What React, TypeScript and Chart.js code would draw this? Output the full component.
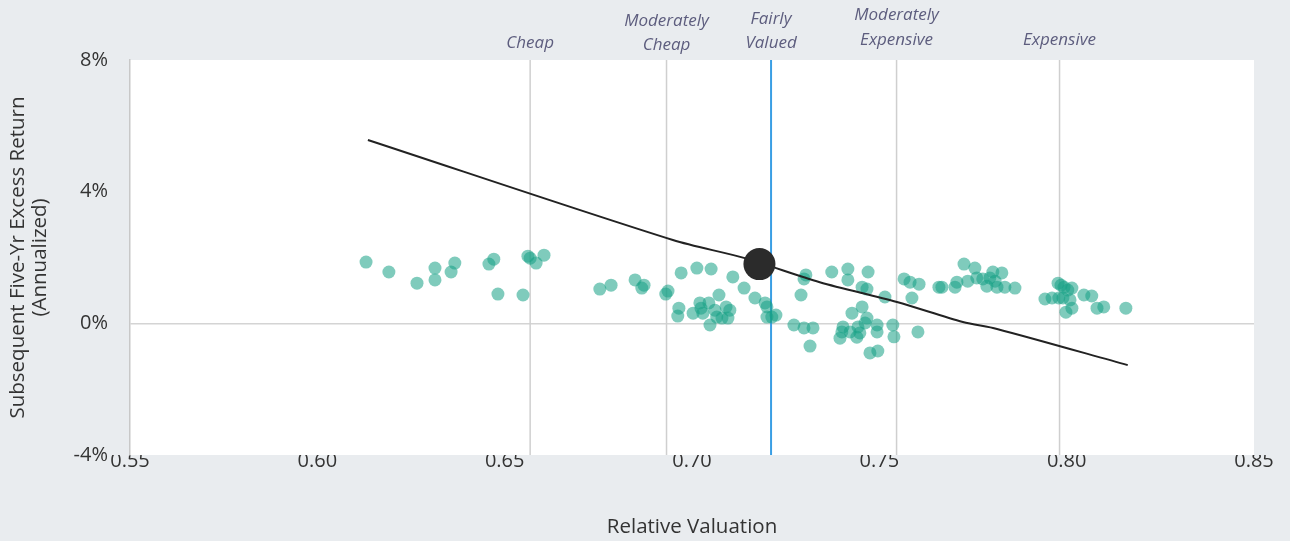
import React, { useEffect, useRef } from "react";
import { Chart, registerables } from "chart.js";

Chart.register(...registerables);

// ---- Data ----
const valuation = [
  0.6130, 0.6191, 0.6266, 0.6314, 0.6314, 0.6357, 0.6367, 0.6458, 0.6471, 0.6482,
  0.6549, 0.6562, 0.6568, 0.6584, 0.6605, 0.6754, 0.6784, 0.6848, 0.6866, 0.6872,
  0.6930, 0.6936, 0.6971, 0.7013, 0.7051, 0.7109, 0.7139, 0.7168, 0.7195, 0.7200,
  0.7200, 0.7213, 0.7224, 0.6965, 0.6962, 0.7003, 0.7021, 0.7024, 0.7029, 0.7045,
  0.7072, 0.7061, 0.7066, 0.7048, 0.7080, 0.7091, 0.7101, 0.7096, 0.7299, 0.7304,
  0.7291, 0.7373, 0.7416, 0.7416, 0.7470, 0.7454, 0.7467, 0.7515, 0.7566, 0.7582,
  0.7606, 0.7587, 0.7659, 0.7427, 0.7454, 0.7272, 0.7299, 0.7323, 0.7315, 0.7403,
  0.7400, 0.7395, 0.7422, 0.7443, 0.7448, 0.7440, 0.7467, 0.7462, 0.7494, 0.7494,
  0.7536, 0.7539, 0.7475, 0.7496, 0.7603, 0.7667, 0.7702, 0.7707, 0.7726, 0.7755,
  0.7736, 0.7760, 0.7776, 0.7795, 0.7803, 0.7827, 0.7809, 0.7814, 0.7835, 0.7862,
  0.7787, 0.7942, 0.7961, 0.7979, 0.7977, 0.7993, 0.8014, 0.8003, 0.8009, 0.8014,
  0.7998, 0.8046, 0.8067, 0.8081, 0.8099, 0.8158, 0.7990, 0.7985,
];
const excessReturn = [
  1.86, 1.56, 1.22, 1.68, 1.32, 1.56, 1.83, 1.80, 1.95, 0.89,
  0.86, 2.04, 1.98, 1.83, 2.07, 1.04, 1.16, 1.32, 1.07, 1.16,
  0.89, 0.98, 1.53, 1.68, 1.65, 1.41, 1.07, 0.77, 0.62, 0.50,
  0.19, 0.19, 0.25, 0.46, 0.22, 0.31, 0.62, 0.46, 0.31, 0.62,
  0.86, 0.40, 0.19, -0.05, 0.16, 0.50, 0.40, 0.16, 1.35, 1.47,
  0.86, 1.56, 1.65, 1.32, 1.56, 1.10, 1.04, 0.80, 1.35, 1.25,
  1.19, 0.77, 1.10, 0.31, 0.50, -0.05, -0.14, -0.14, -0.69, -0.11,
  -0.26, -0.45, -0.26, -0.11, -0.29, -0.42, 0.16, 0.01, -0.05, -0.26,
  -0.05, -0.41, -0.90, -0.84, -0.26, 1.10, 1.10, 1.25, 1.80, 1.68,
  1.28, 1.38, 1.35, 1.38, 1.56, 1.53, 1.28, 1.10, 1.10, 1.07,
  1.13, 0.74, 0.77, 0.77, 1.22, 1.10, 1.07, 1.01, 0.71, 0.46,
  0.34, 0.86, 0.83, 0.46, 0.50, 0.46, 0.77, 1.16,
];

const fitValuation = [0.6135, 0.6949, 0.7141, 0.7341, 0.7547, 0.7723, 0.7814, 0.8163];
const fitReturn = [5.57, 2.53, 1.98, 1.25, 0.65, 0.04, -0.17, -1.27];

const currentValuation = [0.718];
const currentReturn = [1.80];

const zoneBounds = [0.6568, 0.6932, 0.7211, 0.7546, 0.7981];
const zoneNames = [["Cheap"], ["Moderately", "Cheap"], ["Fairly", "Valued"], ["Moderately", "Expensive"], ["Expensive"]];

const xTicks = [0.55, 0.6, 0.65, 0.7, 0.75, 0.8, 0.85];
const yTicks = [-4, 0, 4, 8];
const yRange = [-4, 8];

// ---- Styles ----
const zoneLabelBottomGap = [17, 15, 17, 20, 20]; // px above plot top for last line
const zoneLineGap = [24, 24, 24, 25, 25];
const FONT = '"Open Sans", "Noto Sans", sans-serif';

const zoneLabelPlugin = {
  id: "zoneLabels",
  afterDraw(chart: any) {
    const { ctx, chartArea, scales } = chart;
    const x = scales.x;
    ctx.save();
    ctx.font = `italic 17px ${FONT}`;
    ctx.fillStyle = "#5d5d7e";
    ctx.textAlign = "center";
    ctx.textBaseline = "middle";
    zoneNames.forEach((lines, i) => {
      const px = x.getPixelForValue(zoneBounds[i]);
      const lastY = chartArea.top - zoneLabelBottomGap[i];
      lines.forEach((t, j) => {
        const y = lastY - (lines.length - 1 - j) * zoneLineGap[i];
        ctx.fillText(t, px, y);
      });
    });
    ctx.restore();
  },
};

const whitePlotPlugin = {
  id: "whitePlot",
  beforeDraw(chart: any) {
    const { ctx, chartArea } = chart;
    ctx.save();
    ctx.fillStyle = "#ffffff";
    ctx.fillRect(chartArea.left, chartArea.top, chartArea.right - chartArea.left, chartArea.bottom - chartArea.top);
    ctx.restore();
  },
};

export default function App() {
  const ref = useRef<HTMLCanvasElement | null>(null);

  useEffect(() => {
    document.body.style.margin = "0";
    if (!ref.current) return;

    const zoneDatasets = zoneBounds.map((v, i) => ({
      type: "line" as const,
      data: [
        { x: v, y: yRange[0] },
        { x: v, y: yRange[1] },
      ],
      borderColor: i === 2 ? "#3a9ee4" : "#cfcfcf",
      borderWidth: i === 2 ? 2 : 1.5,
      pointRadius: 0,
      showLine: true,
      order: 5,
    }));

    const chart = new Chart(ref.current, {
      type: "scatter",
      data: {
        datasets: [
          {
            type: "scatter" as const,
            data: currentValuation.map((v, i) => ({ x: v, y: currentReturn[i] })),
            backgroundColor: "#2b2b2b",
            borderWidth: 0,
            pointRadius: 16,
            order: 0,
          },
          {
            type: "line" as const,
            data: fitValuation.map((v, i) => ({ x: v, y: fitReturn[i] })),
            borderColor: "#222222",
            borderWidth: 2,
            pointRadius: 0,
            showLine: true,
            tension: 0.3,
            order: 1,
          },
          {
            type: "scatter" as const,
            data: valuation.map((v, i) => ({ x: v, y: excessReturn[i] })),
            backgroundColor: "rgba(22,160,133,0.55)",
            borderWidth: 0,
            pointRadius: 6.5,
            order: 2,
          },
          ...zoneDatasets,
        ] as any,
      },
      options: {
        animation: false,
        responsive: true,
        maintainAspectRatio: false,
        layout: { padding: { left: 0, top: 60, right: 36, bottom: 0 } },
        plugins: { legend: { display: false }, tooltip: { enabled: false } },
        scales: {
          x: {
            type: "linear",
            min: 0.55,
            max: 0.85,
            afterBuildTicks: (s: any) => {
              s.ticks = xTicks.map((v) => ({ value: v }));
            },
            afterFit: (s: any) => {
              s.height = 86;
            },
            ticks: {
              color: "#333333",
              font: { family: FONT, size: 20, lineHeight: 1.2 },
              padding: -5.5,
              callback: (v: any) => Number(v).toFixed(2),
            },
            grid: { display: false, drawTicks: false },
            border: { display: false },
            title: {
              display: true,
              text: "Relative Valuation",
              color: "#333333",
              font: { family: FONT, size: 20.5, lineHeight: 1.2 },
              padding: { top: 0, bottom: 1.5 },
            },
          },
          y: {
            type: "linear",
            min: yRange[0],
            max: yRange[1],
            afterBuildTicks: (s: any) => {
              s.ticks = yTicks.map((v) => ({ value: v }));
            },
            afterFit: (s: any) => {
              s.width = 130;
            },
            ticks: {
              color: "#333333",
              font: { family: FONT, size: 20, lineHeight: 1.2 },
              padding: 22,
              callback: (v: any) => `${v}%`,
            },
            grid: {
              drawTicks: false,
              color: (c: any) => (c.tick && c.tick.value === 0 ? "#d4d4d4" : "rgba(0,0,0,0)"),
              lineWidth: 1.5,
            },
            border: { display: true, color: "#c8c8c8", width: 1.5 },
            title: {
              display: true,
              text: ["Subsequent Five-Yr Excess Return", "(Annualized)"],
              color: "#333333",
              font: { family: FONT, size: 20.5, lineHeight: 1.1 },
              padding: { top: 6.5, bottom: 0 },
            },
          },
        },
      },
      plugins: [whitePlotPlugin, zoneLabelPlugin],
    });
    return () => chart.destroy();
  }, []);

  return (
    <div style={{ position: "absolute", left: 0, top: 0, width: 1290, height: 541, background: "#e9ecef" }}>
      <canvas ref={ref} />
    </div>
  );
}
